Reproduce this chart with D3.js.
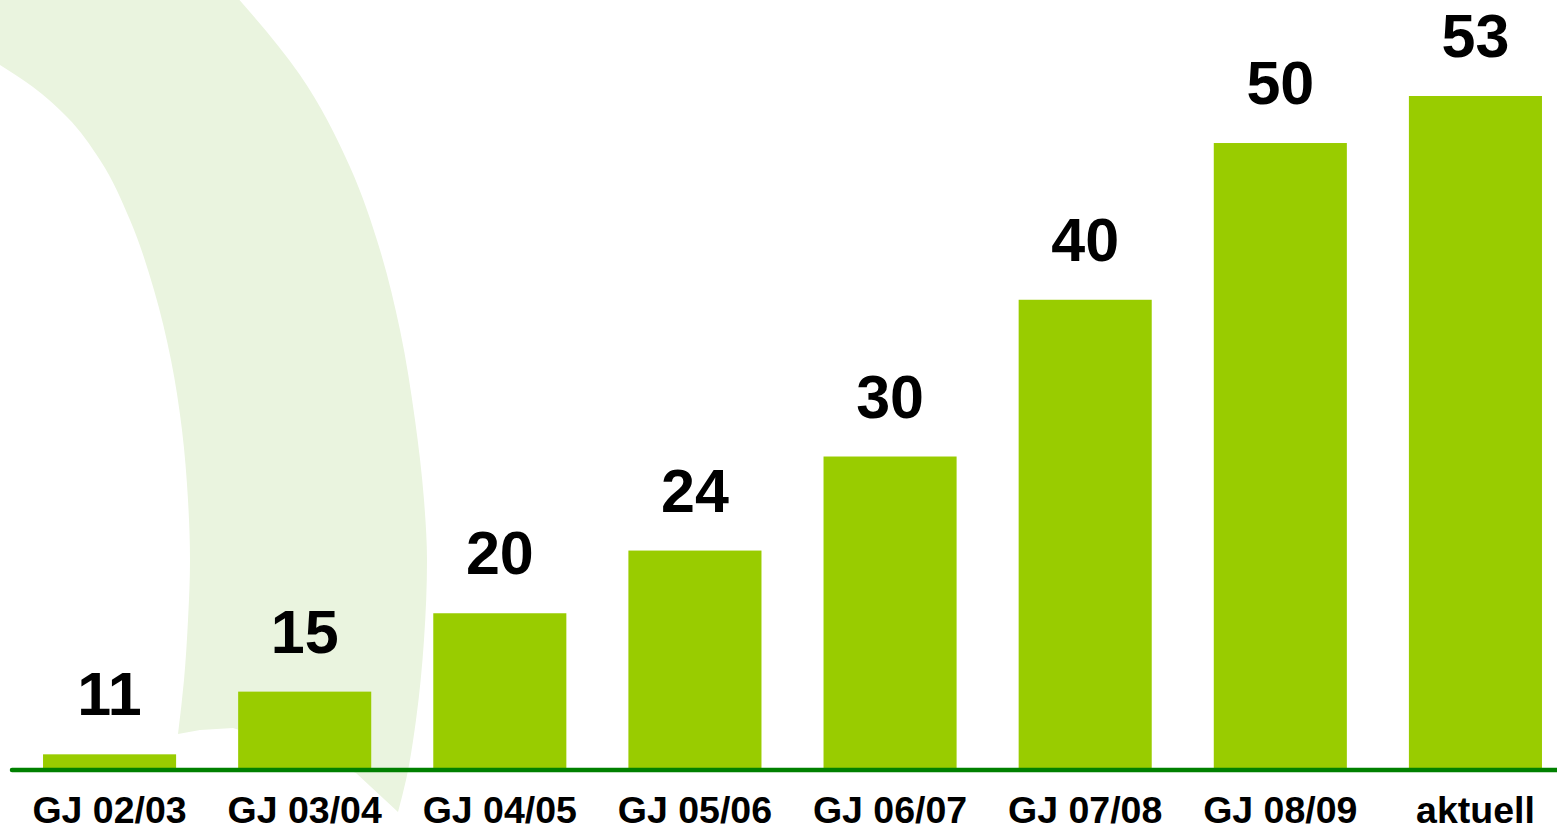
<!DOCTYPE html>
<html>
<head>
<meta charset="utf-8">
<script src="https://cdn.jsdelivr.net/npm/d3@7"></script>
<style>
  html, body { margin: 0; padding: 0; background: #ffffff; overflow: hidden; }
  svg { display: block; }
</style>
</head>
<body>
<svg id="chart" width="1557" height="831"></svg>
<script>
// ---- data ----
const categories = ["GJ 02/03", "GJ 03/04", "GJ 04/05", "GJ 05/06", "GJ 06/07", "GJ 07/08", "GJ 08/09", "aktuell"];
const values = [11, 15, 20, 24, 30, 40, 50, 53];
const valueLabels = ["11", "15", "20", "24", "30", "40", "50", "53"];

// ---- decorative background swoosh outline ----
const swooshOuter = [[236,-4],[300,75],[350,167],[380,250],[400,330],[415,420],[424,500],[427,560],[424,640],[416,720],[406,780],[398,812]];
const swooshBottom = [[356,773],[300,750],[233,728],[200,730]];
const swooshInner = [[178,734],[184,680],[188,620],[190,560],[188,500],[182,430],[171,360],[154,290],[130,220],[100,160],[67,117],[33,87],[0,65]];

const W = 1557, H = 831;
const svg = d3.select("#chart");

svg.append("rect").attr("width", W).attr("height", H).attr("fill", "#ffffff");

const curved = d3.line().curve(d3.curveMonotoneY);
const straight = d3.line();
let p = curved(swooshOuter);
p += straight(swooshBottom).replace(/^M/, "L");
p += curved(swooshInner).replace(/^M/, "L");
p += "L0,-4Z";
svg.append("path").attr("d", p).attr("fill", "#eaf4df");

// scales
const x = d3.scaleBand()
  .domain(categories)
  .range([12, 1573])
  .paddingInner(0.318)
  .paddingOuter(0.159);

const y = d3.scaleLinear()
  .domain([10, 53])
  .range([770, 96]);

// bars
svg.append("g").selectAll("rect")
  .data(values)
  .join("rect")
  .attr("x", (d, i) => x(categories[i]))
  .attr("width", x.bandwidth())
  .attr("y", d => y(d))
  .attr("height", d => y(10) - y(d))
  .attr("fill", "#99cc00");

// baseline
svg.append("line")
  .attr("x1", 12).attr("x2", W + 5)
  .attr("y1", y(10)).attr("y2", y(10))
  .attr("stroke", "#008000")
  .attr("stroke-width", 4.5)
  .attr("stroke-linecap", "round");

// value labels
svg.append("g").selectAll("text")
  .data(values)
  .join("text")
  .attr("x", (d, i) => x(categories[i]) + x.bandwidth() / 2)
  .attr("y", d => y(d) - 39)
  .attr("text-anchor", "middle")
  .attr("font-family", "'Liberation Sans', Arial, sans-serif")
  .attr("font-weight", "bold")
  .attr("font-size", 61)
  .attr("fill", "#000000")
  .text((d, i) => valueLabels[i]);

// category axis labels
const xAxis = d3.axisBottom(x).tickSize(0).tickPadding(0);
const ax = svg.append("g")
  .attr("transform", `translate(0, ${y(10)})`)
  .call(xAxis);
ax.select(".domain").remove();
ax.selectAll("text")
  .attr("dy", null)
  .attr("y", 53)
  .attr("font-family", "'Liberation Sans', Arial, sans-serif")
  .attr("font-weight", "bold")
  .attr("font-size", 37.5)
  .attr("fill", "#000000");
</script>
</body>
</html>
